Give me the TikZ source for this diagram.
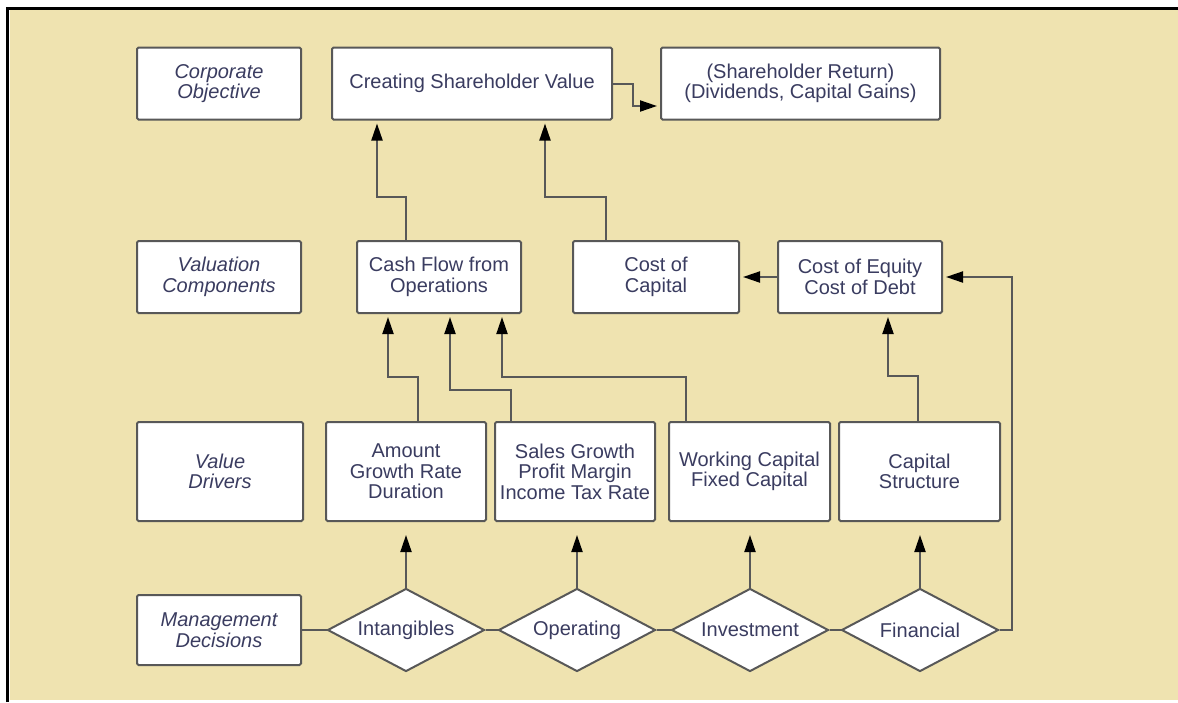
\documentclass[tikz,border=0pt]{standalone}
\usepackage{fontspec}
\setmainfont{Liberation Sans}
\usetikzlibrary{arrows.meta,shapes.geometric}
\definecolor{paper}{RGB}{239,227,176}
\definecolor{ink}{RGB}{58,60,96}
\definecolor{edge}{RGB}{88,88,88}

\begin{document}
\begin{tikzpicture}[x=1pt,y=-1pt,>={Triangle[length=17pt,width=11pt,color=black]},
  font=\fontsize{20}{20.5}\selectfont,
  box/.style={draw=edge,line width=2pt,fill=white,rounded corners=1.5pt,text=ink,align=center,
    inner sep=0pt,minimum width=164pt,minimum height=72pt},
  tag/.style={box,font=\fontsize{20}{20.5}\selectfont\itshape},
  choice/.style={diamond,aspect=1.9,draw=edge,line width=2pt,fill=white,text=ink,inner sep=0pt,
    minimum width=157pt,minimum height=83pt},
  wire/.style={draw=edge,line width=2pt},
  link/.style={wire,->,shorten >=3pt}]
\useasboundingbox (0,0) rectangle (1178,702);
\fill[paper] (10,10) rectangle (1178,700);
\draw[line width=3.5pt] (7.5,702) -- (7.5,8.5) -- (1178,8.5);
% row 1
\node[tag] (obj) at (219,83.5) {Corporate\\Objective};
\node[box,minimum width=280pt] (csv) at (472,83.5) {Creating Shareholder Value};
\node[box,minimum width=279pt] (ret) at (800.5,83.5) {(Shareholder Return)\\(Dividends, Capital Gains)};
% row 2
\node[tag] (val) at (219,277) {Valuation\\Components};
\node[box] (cfo) at (439,277) {Cash Flow from\\Operations};
\node[box,minimum width=166pt] (coc) at (656,277) {Cost of\\Capital};
\node[box] (ced) at (860,277) {Cost of Equity\\Cost of Debt};
% row 3
\node[tag,minimum width=166pt,minimum height=99pt] (drv) at (220,471.5) {Value\\Drivers};
\node[box,minimum width=160pt,minimum height=99pt] (amt) at (406,471.5) {Amount\\Growth Rate\\Duration};
\node[box,minimum width=160pt,minimum height=99pt] (sal) at (575,471.5) {Sales Growth\\Profit Margin\\Income Tax Rate};
\node[box,minimum width=161pt,minimum height=99pt] (wcf) at (749.5,471.5) {Working Capital\\Fixed Capital};
\node[box,minimum width=161pt,minimum height=99pt] (cap) at (919.5,471.5) {Capital\\Structure};
% row 4
\node[tag,minimum height=70pt] (mgd) at (219,630) {Management\\Decisions};
\node[choice] (int) at (406,630) {Intangibles};
\node[choice] (ope) at (577,630) {Operating};
\node[choice] (inv) at (750,630) {Investment};
\node[choice] (fin) at (920,630) {Financial};
\draw[wire] (mgd) -- (int) (int) -- (ope) (ope) -- (inv) (inv) -- (fin);
% decisions up to drivers
\draw[link,shorten >=13pt] (int.north) -- (int.north |- amt.south);
\draw[link,shorten >=13pt] (ope.north) -- (ope.north |- sal.south);
\draw[link,shorten >=13pt] (inv.north) -- (inv.north |- wcf.south);
\draw[link,shorten >=13pt] (fin.north) -- (fin.north |- cap.south);
\draw[link] (fin.east) -- ++(12,0) |- (ced.east);
% drivers up to components
\draw[link] ([xshift=12pt]amt.north) -- ++(0,-44) -| ([xshift=-51pt]cfo.south);
\draw[link] ([xshift=-64pt]sal.north) -- ++(0,-31) -| ([xshift=11pt]cfo.south);
\draw[link] ([xshift=-63.5pt]wcf.north) -- ++(0,-44) -| ([xshift=63pt]cfo.south);
\draw[link] ([xshift=-1.5pt]cap.north) -- ++(0,-45) -| ([xshift=28pt]ced.south);
\draw[link] (ced.west) -- (coc.east);
% components up to objective
\draw[link] ([xshift=-33pt]cfo.north) -- ++(0,-43) -| ([xshift=-95pt]csv.south);
\draw[link] ([xshift=-50pt]coc.north) -- ++(0,-43) -| ([xshift=73pt]csv.south);
\draw[link] (csv.east) -- ++(20,0) |- ([yshift=-22.5pt]ret.west);
\end{tikzpicture}
\end{document}
